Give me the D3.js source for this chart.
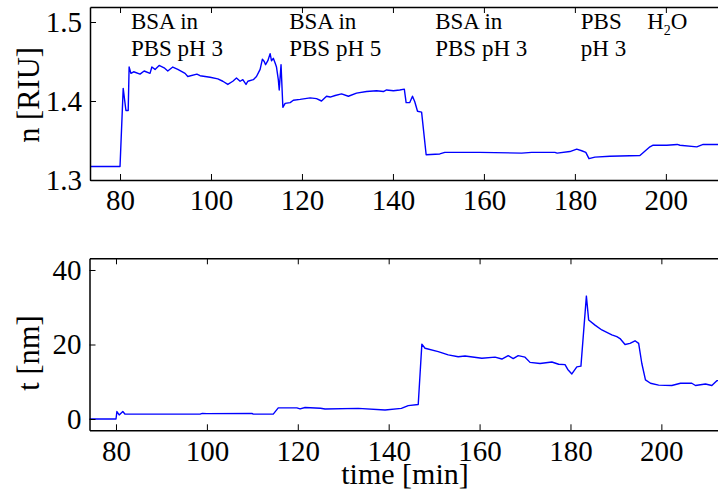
<!DOCTYPE html>
<html><head><meta charset="utf-8">
<script src="https://cdn.jsdelivr.net/npm/d3@7"></script>
<style>
body{margin:0;background:#fff;}
svg text{font-family:"Liberation Serif","Times New Roman",Times,"DejaVu Serif",serif !important;fill:#000;}
</style></head>
<body><svg id="c" width="718" height="495"></svg>
<script>
// ---- data ----
const nTime = [73.4,80.0,80.7,81.3,81.8,82.0,82.4,83.0,84.4,85.3,86.6,87.0,87.7,88.6,89.7,90.5,91.6,92.7,94.3,94.9,96.9,97.6,99.8,101.5,102.6,103.7,104.8,105.6,106.4,107.0,107.7,108.1,109.3,110.0,110.8,111.3,111.7,112.0,112.5,113.0,113.3,113.7,114.1,114.4,114.8,115.0,115.4,115.8,116.3,117.4,118.1,119.6,121.8,123.2,124.3,125.4,126.2,127.3,128.7,130.2,132.0,134.2,136.4,137.9,138.6,140.1,141.5,142.5,142.9,143.7,144.3,144.8,145.4,146.3,147.3,150.3,151.4,159.1,168.3,170.5,175.6,176.1,178.9,180.4,181.5,182.4,183.1,184.4,187.7,194.3,196.5,197.2,200.2,202.5,203.1,206.8,208.2,211.4,214.0];
const nValue = [1.317,1.317,1.416,1.388,1.388,1.443,1.435,1.437,1.434,1.438,1.435,1.443,1.440,1.445,1.442,1.438,1.443,1.440,1.435,1.431,1.434,1.432,1.430,1.428,1.425,1.421,1.425,1.429,1.425,1.427,1.421,1.425,1.427,1.431,1.440,1.453,1.450,1.446,1.451,1.460,1.451,1.454,1.448,1.443,1.427,1.414,1.446,1.392,1.397,1.398,1.401,1.402,1.404,1.403,1.400,1.406,1.405,1.407,1.409,1.406,1.410,1.412,1.413,1.412,1.414,1.413,1.414,1.415,1.398,1.398,1.406,1.399,1.387,1.386,1.332,1.333,1.335,1.335,1.334,1.335,1.335,1.334,1.336,1.339,1.337,1.335,1.327,1.329,1.330,1.331,1.342,1.344,1.344,1.345,1.344,1.342,1.345,1.345,1.345];
const tTime = [74.1,80.0,80.2,80.7,81.5,82.0,98.5,99.0,100.0,109.9,110.2,114.6,115.7,119.8,120.5,121.6,125.0,126.0,133.3,139.2,142.8,144.3,146.5,147.3,148.0,150.9,153.1,155.3,156.8,160.5,163.4,164.9,166.3,167.4,168.5,170.0,171.1,173.3,175.9,177.4,178.8,179.4,180.3,181.4,182.3,183.5,184.0,185.4,186.9,189.1,190.2,190.9,192.0,193.1,194.2,195.0,195.7,196.5,197.6,199.4,202.3,204.2,206.7,207.5,209.7,211.1,212.2,215.0];
const tValue = [0,0,2.0,1.1,2.0,1.3,1.3,1.5,1.45,1.5,1.3,1.3,3.0,3.0,2.7,3.1,2.9,2.7,2.86,2.4,2.86,3.6,3.9,20.1,19.0,18.1,17.2,16.7,16.9,16.3,16.6,16.1,17.0,16.2,17.0,16.6,15.2,14.9,15.3,14.7,14.6,13.3,12.1,14.0,14.2,33.0,26.6,25.2,23.9,22.6,22.1,21.6,20.0,20.3,21.0,20.3,14.9,10.5,9.6,9.1,9.0,9.6,9.6,9.0,9.4,9.0,10.3,10.3];
const xTicks = [80,100,120,140,160,180,200];
const nTicks = [1.3,1.4,1.5];
const tTicks = [0,20,40];
const labelTimes = [82.4,117.2,149.3,181.3];
const labelLine1 = ["BSA in","BSA in","BSA in","PBS"];
const labelLine2 = ["PBS pH 3","PBS pH 5","PBS pH 3","pH 3"];
const waterTime = 195.9;

// ---- layout ----
const FONT = '"Liberation Serif","Times New Roman",Times,"DejaVu Serif",serif';
const svg = d3.select("#c");
const P1 = {l:90, r:730, t:7, b:180};
const P2 = {l:89.5, r:730, t:258.3, b:430.3};

const x1 = d3.scaleLinear().domain([73.4, 214.1]).range([P1.l, P1.r]);
const y1 = d3.scaleLinear().domain([1.3, 1.519]).range([P1.b, P1.t]);
const x2 = d3.scaleLinear().domain([74.17, 215.1]).range([P2.l, P2.r]);
const y2 = d3.scaleLinear().domain([-3.03, 43.14]).range([P2.b, P2.t]);

const defs = svg.append("defs");
function clip(id,P){defs.append("clipPath").attr("id",id).append("rect").attr("x",P.l).attr("y",P.t).attr("width",P.r-P.l).attr("height",P.b-P.t);}
clip("c1",P1); clip("c2",P2);

function panel(P,x,y,times,vals,clipId,yTicks,yFmt,padX){
  const g = svg.append("g");
  const line = d3.line().x((d,i)=>x(times[i])).y(d=>y(d));
  g.append("path").datum(vals).attr("d",line).attr("clip-path",`url(#${clipId})`)
    .attr("fill","none").attr("stroke","#0000ff").attr("stroke-width",1.4).attr("stroke-linejoin","round");
  const ax = g.append("g").attr("transform",`translate(0,${P.b})`)
    .call(d3.axisBottom(x).tickValues(xTicks).tickSizeInner(-6).tickSizeOuter(0).tickPadding(padX).tickFormat(d3.format("d")));
  const axT = g.append("g").attr("transform",`translate(0,${P.t})`)
    .call(d3.axisTop(x).tickValues(xTicks).tickSizeInner(-6).tickSizeOuter(0).tickFormat(""));
  const ay = g.append("g").attr("transform",`translate(${P.l},0)`)
    .call(d3.axisLeft(y).tickValues(yTicks).tickSizeInner(-6).tickSizeOuter(0).tickPadding(8).tickFormat(yFmt));
  [ax,axT,ay].forEach(a=>{
    a.attr("font-family",FONT).attr("font-size",29);
    a.select(".domain").attr("stroke","#000").attr("stroke-width",1.5);
    a.selectAll(".tick line").attr("stroke","#000").attr("stroke-width",1);
    a.selectAll("text").style("font-family",FONT).style("font-size","29px");
  });
}
panel(P1,x1,y1,nTime,nValue,"c1",nTicks,d3.format(".1f"),9);
panel(P2,x2,y2,tTime,tValue,"c2",tTicks,d3.format("d"),10);

function txt(){return svg.append("text").style("font-family",FONT);}
// axis titles
txt().attr("transform","translate(39,95) rotate(-90)").attr("text-anchor","middle")
  .style("font-size","30.5px").text("n [RIU]");
txt().attr("transform","translate(39,353) rotate(-90)").attr("text-anchor","middle")
  .style("font-size","30.5px").text("t [nm]");
txt().attr("x",405).attr("y",484).attr("text-anchor","middle")
  .style("font-size","30px").text("time [min]");

// annotations
labelTimes.forEach((t,i)=>{
  txt().attr("x",x1(t)).attr("y",29).style("font-size","23px").text(labelLine1[i]);
  txt().attr("x",x1(t)).attr("y",56).style("font-size","23px").text(labelLine2[i]);
});
const w = txt().attr("x",x1(waterTime)).attr("y",29).style("font-size","23px");
w.append("tspan").text("H");
w.append("tspan").style("font-size","14px").attr("dy",6).text("2");
w.append("tspan").attr("dy",-6).text("O");
</script></body></html>
